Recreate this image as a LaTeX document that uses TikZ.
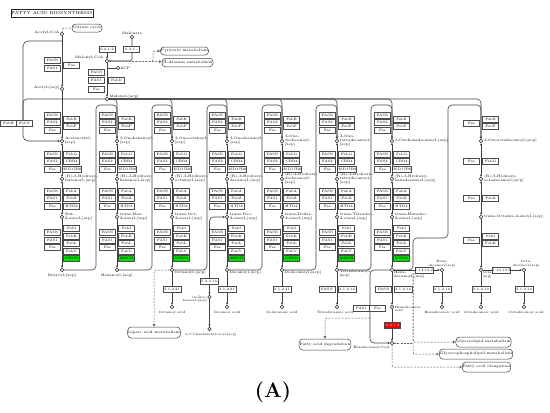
\documentclass[tikz,border=0pt]{standalone}
\usetikzlibrary{positioning, arrows.meta}
\definecolor{kegggreen}{RGB}{0,224,0}
\definecolor{keggred}{RGB}{240,0,0}

\tikzset{
  enz/.style={draw=black!70, fill=white, line width=0.5pt, minimum width=16pt, minimum height=5.6pt, inner sep=0pt, font=\fontsize{3.4}{3.8}\selectfont},
  ec/.style={enz, minimum width=18pt},
  cpd/.style={circle, draw=black!85, fill=white, line width=0.5pt, minimum size=3.4pt, inner sep=0pt},
  lbl/.style={font=\fontsize{3.6}{4}\selectfont, align=left, inner sep=0.3pt},
  albl/.style={lbl, font=\fontsize{3.2}{3.6}\selectfont},
  pmap/.style={draw=black!75, fill=white, line width=0.5pt, rounded corners=3.5pt, minimum height=9pt, inner sep=0.5pt, font=\fontsize{3.7}{4.1}\selectfont},
  rx/.style={draw=black!75, line width=0.6pt},
  lnk/.style={draw=black!65, line width=0.5pt, dash pattern=on 2pt off 1.3pt},
  lnktip/.style={-{Triangle[open, length=2.6pt, width=2.6pt]}},
}

% one elongation round: id, x, 3-oxo label, 3-hydroxy label, enoyl label
\newcommand\elongcol[5]{%
  \node[cpd] (oxo#1) at (#2,141) {};
  \node[cpd] (hyd#1) at (#2,179) {};
  \node[cpd] (eno#1) at (#2,217) {};
  \node[cpd] (acy#1) at (#2,270) {};
  \node[lbl, anchor=west] at (#2+2.5,141) {#3};
  \node[lbl, anchor=west] at (#2+2.5,179) {#4};
  \node[lbl, anchor=west] at (#2+2.5,217) {#5};
  \draw[rx,<->] (oxo#1) -- (hyd#1);
  \draw[rx,<->] (hyd#1) -- (eno#1);
  \draw[rx,->] (eno#1) -- (acy#1);
  \foreach \e [count=\i] in {FASN,FAS2,Fas} \node[enz] at (#2-9.6,107.5+7.5*\i) {\e};
  \foreach \e [count=\i] in {FabB,FabF} \node[enz] at (#2+9.6,111.5+7.5*\i) {\e};
  \foreach \e [count=\i] in {FASN,FAS2,Fas} \node[enz] at (#2-9.6,146.5+7.5*\i) {\e};
  \foreach \e [count=\i] in {FabG,CBR4,HSD17B8} \node[enz] at (#2+9.6,146.5+7.5*\i) {\e};
  \foreach \e [count=\i] in {FASN,FAS1,Fas} \node[enz] at (#2-9.6,183.5+7.5*\i) {\e};
  \foreach \e [count=\i] in {FabA,FabZ,HTD2} \node[enz] at (#2+9.6,183.5+7.5*\i) {\e};
  \foreach \e [count=\i] in {FASN,FAS1,Fas} \node[enz] at (#2-9.6,225+7.5*\i) {\e};
  \foreach \e [count=\i] in {FabI,FabK,FabL,FabV} \node[enz] at (#2+9.6,221+7.5*\i) {\e};
  \node[enz, fill=kegggreen] at (#2+9.6,258.5) {MECR};
}

\begin{document}
\begin{tikzpicture}[x=1pt, y=-1pt, >={Stealth[length=2.6pt, width=2.2pt]}]
\useasboundingbox (0,0) rectangle (550,413);

\node[draw=black!85, line width=0.7pt, minimum width=82pt, minimum height=8pt, inner sep=0pt, font=\fontsize{4.3}{4.7}\selectfont] (title) at (52,13) {FATTY ACID BIOSYNTHESIS};

% acetyl-CoA / malonyl-CoA
\node[cpd] (acoa) at (62,34) {};
\node[lbl, anchor=east] at (60,33) {Acetyl-CoA};
\node[pmap, minimum width=30pt, minimum height=8pt] (tca) at (87,28) {Citrate cycle};
\draw[lnk, rounded corners=2pt] (acoa) |- (tca);
\node[cpd] (aacp) at (62,89) {};
\node[lbl, anchor=east] at (60,88) {Acetyl-[acp]};
\coordinate (fabhj) at (62,41);
\draw[rx,->] (acoa) -- (aacp);
\node[enz] at (52.4,60) {FASN};
\node[enz] at (52.4,68) {FAS1};
\node[enz] at (71.6,65) {Fas};

\node[cpd] (malo) at (132,37) {};
\node[lbl, anchor=south] at (132,35) {Malonate};
\node[cpd] (mcoa) at (107,61) {};
\node[lbl, anchor=east] at (104,58) {Malonyl-CoA};
\node[enz] (e6412) at (107,49) {6.4.1.2};
\draw[rx,->] (e6412) -- (mcoa);
\draw[rx,->, rounded corners=2pt] (malo) |- (mcoa);
\node[enz] (e621) at (131.5,49) {6.2.1.-};
\node[pmap, minimum width=45pt, minimum height=8pt] (pyr) at (184.5,51) {Pyruvate metabolism};
\node[pmap, minimum width=51pt, minimum height=8.5pt] (bala) at (187.5,62.5) {$\beta$-Alanine metabolism};
\draw[lnk, lnktip, rounded corners=2pt] (mcoa.east) -- (153,61.5) |- (pyr);
\draw[lnk, lnktip] (mcoa.east) -- (153,61.5) -- (bala);

\node[cpd] (macp) at (107,99) {};
\node[lbl, anchor=west] at (109,96.5) {Malonyl-[acp]};
\coordinate (acpj) at (107,68);
\node[cpd] (acp) at (118,68) {};
\node[lbl, anchor=west] at (119.5,68) {ACP};
\draw[rx,->] (mcoa) -- (macp);
\draw[rx] (acp) -- (acpj);
\node[enz] at (96.5,72) {FASN};
\node[enz] at (96.5,80.5) {FAS1};
\node[enz] at (96.5,89) {Fas};
\node[enz] at (116.5,80.5) {FabD};

% elongation rounds
\elongcol{1}{62}{Acetoacetyl-\\{[acp]}}{(R)-3-Hydroxy-\\butanoyl-[acp]}{But-\\2-enoyl-[acp]}
\elongcol{2}{117}{3-Oxohexanoyl-\\{[acp]}}{(R)-3-Hydroxy-\\hexanoyl-[acp]}{trans-Hex-\\2-enoyl-[acp]}
\elongcol{3}{172}{3-Oxooctanoyl-\\{[acp]}}{(R)-3-Hydroxy-\\octanoyl-[acp]}{trans-Oct-\\2-enoyl-[acp]}
\elongcol{4}{227}{3-Oxodecanoyl-\\{[acp]}}{(R)-3-Hydroxy-\\decanoyl-[acp]}{trans-Dec-\\2-enoyl-[acp]}
\elongcol{5}{282}{3-Oxo-\\dodecanoyl-\\{[acp]}}{(R)-3-Hydroxy-\\dodecanoyl-\\{[acp]}}{trans-Dodec-\\2-enoyl-[acp]}
\elongcol{6}{337}{3-Oxo-\\tetradecanoyl-\\{[acp]}}{(R)-3-Hydroxy-\\tetradecanoyl-\\{[acp]}}{trans-Tetradec-\\2-enoyl-[acp]}
\elongcol{7}{392}{3-Oxohexadecanoyl-[acp]}{(R)-3-Hydroxy-\\hexadecanoyl-[acp]}{trans-Hexadec-\\2-enoyl-[acp]}

\node[lbl, anchor=north] at (62,273) {Butyryl-[acp]};
\node[lbl, anchor=north] at (117,273) {Hexanoyl-[acp]};
\node[lbl, anchor=north west] at (174,270) {Octanoyl-[acp]};
\node[lbl, anchor=north west] at (229,270) {Decanoyl-[acp]};
\node[lbl, anchor=north west] at (284,270) {Dodecanoyl-[acp]};
\node[lbl, anchor=north west] at (339,269) {Tetradecanoyl-\\{[acp]}};
\node[lbl, anchor=north west] at (393.5,271) {Hexa-\\decanoyl-[acp]};

% last round (Fas only)
\node[cpd] (oxo8) at (481,141) {};
\node[cpd] (hyd8) at (481,179) {};
\node[cpd] (eno8) at (481,217) {};
\node[cpd] (acy8) at (481,270) {};
\node[lbl, anchor=west] at (483.5,141) {3-Oxooctadecanoyl-[acp]};
\node[lbl, anchor=west] at (483.5,179) {(R)-3-Hydroxy-\\octadecanoyl-[acp]};
\node[lbl, anchor=west] at (483.5,217) {trans-Octadec-2-enoyl-[acp]};
\node[albl, anchor=north west] at (482,271) {Octadecanoyl-\\{[acp]}};
\draw[rx,<->] (oxo8) -- (hyd8);
\draw[rx,<->] (hyd8) -- (eno8);
\draw[rx,->] (eno8) -- (acy8);
\node[enz] at (471.4,123) {Fas};
\node[enz] at (490.6,119) {FabB};
\node[enz] at (490.6,126.5) {FabF};
\node[enz] at (471.4,161.5) {Fas};
\node[enz] at (490.6,161.5) {FabG};
\node[enz] at (471.4,198.5) {Fas};
\node[enz] at (490.6,198.5) {FabZ};
\node[enz] at (471.4,240) {Fas};
\node[enz] at (490.6,236) {FabI};
\node[enz] at (490.6,243.5) {FabK};

% acyl chains fed to the next round
\draw[rx,->] (aacp) -- (oxo1);
\draw[rx,->, rounded corners=5pt] (fabhj) -| (23,141) -- (oxo1);
\draw[rx, rounded corners=4pt] (macp) -| (23,120);
\foreach \c in {2,...,8} \draw[rx,->, rounded corners=4pt] (macp) -| (oxo\c);
\draw[rx,->, rounded corners=4pt] (acy1) -| (96,105) -| (oxo2);
\draw[rx,->, rounded corners=4pt] (acy2) -| (152,105) -| (oxo3);
\draw[rx,->, rounded corners=4pt] (acy3) -| (207,105) -| (oxo4);
\draw[rx,->, rounded corners=4pt] (acy4) -| (262,105) -| (oxo5);
\draw[rx,->, rounded corners=4pt] (acy5) -| (316,105) -| (oxo6);
\draw[rx,->, rounded corners=4pt] (acy6) -| (371,105) -| (oxo7);
\draw[rx,->, rounded corners=4pt] (acy7) -| (413,238) -| (448,105) -| (oxo8);
\node[enz] at (8.5,123) {FabH};
\node[enz] at (24.5,123) {FabY};

% unsaturated branch
\node[cpd] (cdec) at (209.5,297) {};
\node[albl, anchor=north east, align=right] at (207.5,295.5) {cis-Dec-\\3-enoyl-[acp]};
\node[cpd] (n7) at (209.5,329) {};
\node[albl, anchor=north] at (211,332.5) {n-7 Unsaturated acyl-[acp]};
\draw[rx,<->, rounded corners=4pt] (cdec) |- (eno4);
\draw[rx,->] (cdec) -- (n7);
\node[ec] at (209,281.5) {5.3.3.14};

% free fatty acids
\node[cpd] (fa3) at (172,307) {};
\node[cpd] (fa4) at (227,307) {};
\node[cpd] (fa5) at (282,307) {};
\node[cpd] (fa6) at (337,307) {};
\node[cpd] (fa7) at (392,307) {};
\node[cpd] (hdec) at (442,270) {};
\node[cpd] (fa9) at (442,307) {};
\node[cpd] (fa8) at (481,307) {};
\node[cpd] (odec) at (524,270) {};
\node[cpd] (fa10) at (524,307) {};
\foreach \c in {3,...,8} \draw[rx,->] (acy\c) -- (fa\c);
\draw[rx,->] (hdec) -- (fa9);
\draw[rx,->] (odec) -- (fa10);
\draw[rx,->] (acy7) -- (hdec);
\draw[rx,->] (acy8) -- (odec);
\node[ec] at (172,289.5) {3.1.2.21};
\node[ec] at (227,289.5) {3.1.2.21};
\node[ec] at (282,289.5) {3.1.2.21};
\node[enz] at (327,289.5) {FASN};
\node[ec] at (347,289.5) {3.1.2.14};
\node[enz] at (383.5,289.5) {FASN};
\node[ec] at (403,289.5) {3.1.2.14};
\node[ec] at (442,289.5) {3.1.2.14};
\node[ec] at (481,289.5) {3.1.2.14};
\node[ec] at (524,289.5) {3.1.2.14};
\node[ec] at (424,270) {1.14.19.2};
\node[ec] at (501.5,270) {1.14.19.2};
\node[albl, anchor=south, align=center] at (442,267.5) {Hexa-\\decenoyl-[acp]};
\node[albl, anchor=south, align=center] at (526,267.5) {Octa-\\decenoyl-[acp]};
\node[albl, anchor=north] at (172,310.5) {Octanoic acid};
\node[albl, anchor=north] at (227,310.5) {Decanoic acid};
\node[albl, anchor=north] at (282,310.5) {Dodecanoic acid};
\node[albl, anchor=north] at (335,310.5) {Tetradecanoic acid};
\node[albl, anchor=north west] at (394.5,305.5) {Hexadecanoic\\acid};
\node[albl, anchor=north] at (442,310.5) {Hexadecenoic acid};
\node[albl, anchor=north] at (481,310.5) {Octadecanoic acid};
\node[albl, anchor=north] at (526,310.5) {Octadecenoic acid};

% hexadecanoyl-CoA
\node[cpd] (hdcoa) at (392,343) {};
\node[albl, anchor=north east] at (390,345.5) {Hexadecanoyl-CoA};
\draw[rx,->] (fa7) -- (hdcoa);
\draw[rx,->, rounded corners=4pt] (acy7) -| (370,343) -- (hdcoa);
\node[enz, fill=keggred, text=white] at (392.5,325) {6.2.1.3};
\node[enz] at (361.5,308) {FAS1};
\node[enz] at (377.5,308) {Fas};

% links to other maps
\node[pmap, minimum width=52pt, minimum height=11pt] (lipo) at (154,332.5) {Lipoic acid metabolism};
\node[pmap, minimum width=50pt, minimum height=11pt] (fadeg) at (325,344.5) {Fatty acid degradation};
\node[pmap, minimum width=53pt, minimum height=10pt] (glyl) at (483.5,342) {Glycerolipid metabolism};
\node[pmap, minimum width=68pt, minimum height=10pt] (glyp) at (476,354) {Glycerophospholipid metabolism};
\node[pmap, minimum width=47pt, minimum height=10pt] (fael) at (486.5,367) {Fatty acid elongation};
\coordinate (degj) at (370,318);
\coordinate (hxj) at (413,273);
\draw[lnk, lnktip, rounded corners=2pt] (acy3) -| (lipo);
\draw[lnk, lnktip, rounded corners=2pt] (degj) -| (fadeg);
\draw[lnk, lnktip, rounded corners=2pt] (hxj) |- (glyl);
\draw[lnk, lnktip, rounded corners=2pt] (hxj) |- (glyp);
\draw[lnk] (hdcoa) -- (hdcoa -| hxj);
\draw[lnk, lnktip, rounded corners=2pt] (hdcoa) |- (fael);

\node[font=\bfseries\fontsize{21}{22}\selectfont] (panel) at (273,392) {(A)};
\end{tikzpicture}
\end{document}
